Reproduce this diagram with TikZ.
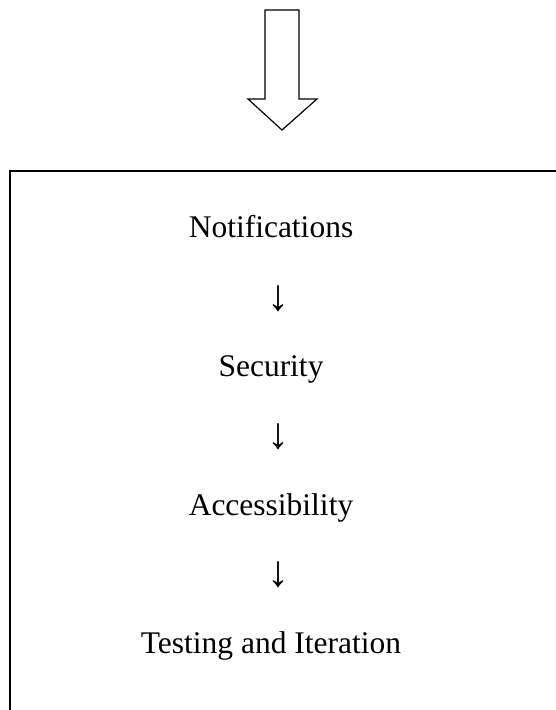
\documentclass[tikz,border=0pt]{standalone}
\usepackage{fontspec}
\setmainfont{Liberation Serif}
\begin{document}
\begin{tikzpicture}[x=1pt,y=-1pt,
  lbl/.style={font=\fontsize{31.5}{36}\selectfont, inner sep=0pt, anchor=base},
  darr/.style={font=\fontsize{44}{48}\selectfont, inner sep=0pt, anchor=center}]
\useasboundingbox (0,0) rectangle (556,710);
\fill[white] (0,0) rectangle (556,710);
% block arrow
\draw[line width=1.2pt, line join=miter] (265,10) -- (299,10) -- (299,99) -- (317,99) -- (282,130) -- (248,99) -- (265,99) -- cycle;
% frame (open at right and bottom)
\draw[line width=2pt] (10,712) -- (10,171) -- (558,171);
% texts
\node[lbl] (n1) at (271,237) {Notifications};
\node[darr] (a1) at (278,299) {↓};
\node[lbl] (n2) at (271,376) {Security};
\node[darr] (a2) at (278,437) {↓};
\node[lbl] (n3) at (271,515) {Accessibility};
\node[darr] (a3) at (278,575) {↓};
\node[lbl] (n4) at (271,653) {Testing and Iteration};
\end{tikzpicture}
\end{document}
